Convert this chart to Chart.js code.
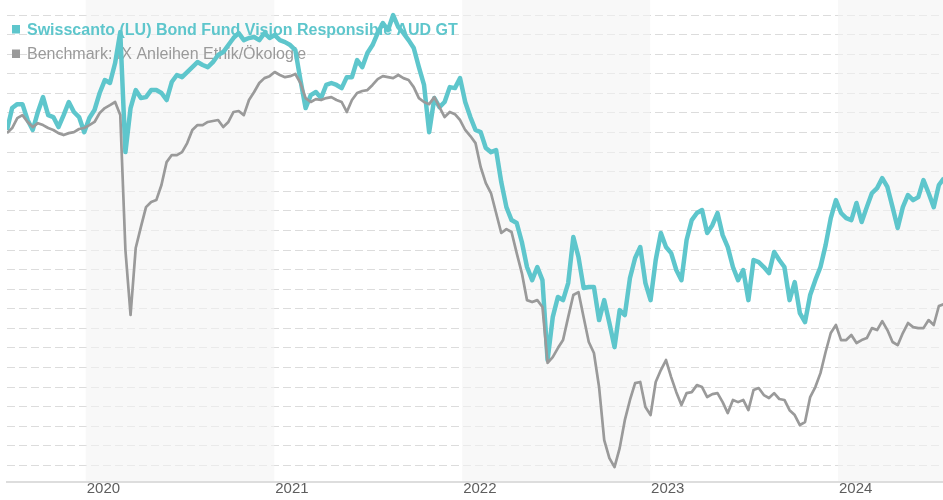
<!DOCTYPE html>
<html>
<head>
<meta charset="utf-8">
<script src="https://cdn.jsdelivr.net/npm/chart.js@4.4.1/dist/chart.umd.min.js"></script>
<style>
  html, body { margin: 0; padding: 0; background: #ffffff; }
  #wrap { width: 943px; height: 500px; }
</style>
</head>
<body>
<div id="wrap"><canvas id="chart" width="943" height="500"></canvas></div>
<script>
// Series names (shown in the legend)
const seriesNames = [
  'Swisscanto (LU) Bond Fund Vision Responsible AUD GT',
  'Benchmark: IX Anleihen Ethik/Ökologie'
];

// Observation dates: every 10 days starting from firstDate
const firstDate = '2019-08-01';
const stepDays = 10;
const lastDate = '2024-07-23';

// Fund index values
const fundValues = [
  95.13, 96.25, 96.45, 96.45, 95.64, 95.13, 96.05, 96.81, 95.89, 95.79,
  95.28, 95.89, 96.56, 96.05, 95.79, 95.02, 95.74, 96.15, 97.02, 97.68,
  97.53, 98.55, 100.13, 94.00, 96.25, 97.17, 96.76, 96.81, 97.17, 97.17,
  97.02, 96.66, 97.58, 97.94, 97.83, 98.09, 98.34, 98.60, 98.45, 98.34,
  98.60, 98.96, 99.11, 99.47, 99.83, 100.08, 99.72, 99.83, 99.88, 99.72,
  100.08, 99.83, 99.98, 99.72, 99.62, 99.47, 99.21, 97.68, 96.25, 96.91,
  97.07, 96.76, 97.43, 97.53, 97.43, 97.27, 97.83, 97.83, 98.70, 98.34,
  99.06, 99.47, 100.08, 100.59, 100.23, 101.00, 100.39, 100.08, 99.72, 99.32,
  98.34, 97.43, 95.02, 96.76, 96.30, 96.56, 97.32, 97.27, 97.78, 96.56,
  95.79, 95.13, 95.02, 94.21, 94.00, 94.10, 92.47, 91.19, 90.53, 90.38,
  89.41, 88.13, 87.46, 88.13, 87.46, 83.38, 85.57, 86.60, 86.44, 87.31,
  89.66, 88.64, 87.06, 87.11, 87.11, 85.42, 86.44, 85.27, 84.04, 85.93,
  85.68, 87.57, 88.59, 89.15, 87.31, 86.44, 88.49, 89.87, 89.15, 88.84,
  87.98, 87.46, 89.51, 90.53, 90.89, 91.04, 89.87, 90.27, 90.89, 89.76,
  89.15, 88.13, 87.46, 87.98, 86.44, 88.49, 88.38, 88.13, 87.82, 88.90,
  88.49, 88.13, 86.44, 87.36, 85.78, 85.32, 86.70, 87.46, 88.13, 89.25,
  90.63, 91.55, 90.89, 90.63, 90.53, 91.40, 90.43, 91.19, 91.91, 92.16,
  92.67, 92.22, 91.19, 90.12, 91.19, 91.81, 91.55, 91.70, 92.57, 91.91,
  91.19, 92.32, 92.67
];

// Benchmark index values
const benchmarkValues = [
  94.97, 95.23, 95.74, 95.89, 95.54, 95.28, 95.48, 95.38, 95.23, 95.13,
  94.97, 94.87, 94.97, 95.02, 95.18, 95.23, 95.38, 95.54, 96.00, 96.25,
  96.40, 96.56, 95.89, 89.00, 85.68, 89.10, 90.17, 91.19, 91.45, 91.55,
  92.32, 93.49, 93.85, 93.85, 94.00, 94.46, 95.13, 95.38, 95.38, 95.54,
  95.59, 95.64, 95.28, 95.54, 96.05, 96.10, 95.89, 96.66, 97.07, 97.53,
  97.78, 97.88, 98.09, 97.94, 97.83, 97.88, 97.99, 97.53, 96.76, 96.56,
  96.71, 96.66, 96.76, 96.81, 96.66, 96.56, 96.05, 96.66, 97.02, 97.12,
  97.17, 97.43, 97.73, 97.88, 97.83, 97.78, 97.94, 97.78, 97.68, 97.32,
  96.76, 96.56, 96.45, 96.81, 96.30, 95.79, 96.05, 95.94, 95.64, 95.13,
  94.82, 94.46, 93.24, 92.42, 91.91, 90.89, 89.87, 90.07, 89.92, 88.84,
  87.82, 86.44, 86.34, 86.44, 86.09, 83.23, 83.53, 83.99, 84.40, 85.57,
  86.70, 86.85, 85.57, 84.30, 83.74, 82.00, 79.29, 78.37, 77.91, 78.88,
  80.31, 81.34, 82.20, 82.26, 80.98, 80.57, 82.26, 82.87, 83.38, 82.51,
  81.74, 81.08, 81.69, 81.74, 82.10, 82.00, 81.49, 81.64, 81.69, 81.23,
  80.67, 81.34, 81.23, 81.34, 80.82, 81.85, 81.95, 81.59, 81.44, 81.69,
  81.39, 81.34, 80.82, 80.57, 80.06, 80.21, 81.49, 82.00, 82.71, 83.79,
  84.76, 85.17, 84.40, 84.40, 84.66, 84.25, 84.40, 84.50, 85.01, 84.91,
  85.37, 84.91, 84.30, 84.14, 84.76, 85.27, 85.06, 85.01, 85.01, 85.42,
  85.17, 86.14, 86.24
];

// Axis labels and shading
const yearLabels = ['2020', '2021', '2022', '2023', '2024'];
const shadedYears = [2020, 2022, 2024];
const gridValues = [];
for (let v = 78; v <= 101; v++) gridValues.push(v);
const valueMin = 77.15;
const valueMax = 101.77;

// Colours and fonts
const fundColor = '#5ec6cc';
const benchColor = '#9a9a9a';
const fontFamily = '"Liberation Sans", Arial, Helvetica, sans-serif';

// Dates are placed on a numeric axis in days since 2020-01-01
const DAY_MS = 86400000;
const EPOCH = Date.parse('2020-01-01T00:00:00Z');
const dayOf = s => (Date.parse(s + 'T00:00:00Z') - EPOCH) / DAY_MS;
const yearStart = y => (Date.UTC(y, 0, 1) - EPOCH) / DAY_MS;

const startDay = dayOf(firstDate);
const toPoints = arr => arr.map((v, i) => ({ x: startDay + i * stepDays, y: v }));

// Shaded year bands and the legend are painted under the lines
const underlayPlugin = {
  id: 'underlay',
  beforeDatasetsDraw(chart) {
    const { ctx, chartArea, scales } = chart;
    const xs = scales.x;
    ctx.save();
    ctx.fillStyle = 'rgba(243,243,243,0.6)';
    shadedYears.forEach(y => {
      const x0 = Math.max(xs.getPixelForValue(yearStart(y)), chartArea.left);
      const x1 = Math.min(xs.getPixelForValue(yearStart(y + 1)), chartArea.right);
      if (x1 > x0) ctx.fillRect(x0, 0, x1 - x0, chartArea.bottom - 1);
    });

    // legend
    const items = [
      { text: seriesNames[0], color: fundColor, bold: true, y: 34.5 },
      { text: seriesNames[1], color: benchColor, bold: false, y: 59 }
    ];
    items.forEach(it => {
      ctx.fillStyle = it.color;
      ctx.fillRect(12, it.y - 9.5, 8, 8.5);
      ctx.font = (it.bold ? 'bold ' : '') + '16px ' + fontFamily;
      ctx.textBaseline = 'alphabetic';
      ctx.textAlign = 'left';
      ctx.fillText(it.text, 27, it.y);
    });
    ctx.restore();
  }
};

new Chart(document.getElementById('chart'), {
  type: 'line',
  data: {
    datasets: [
      {
        label: seriesNames[0],
        data: toPoints(fundValues),
        borderColor: fundColor,
        borderWidth: 4.5,
        pointRadius: 0,
        tension: 0,
        borderJoinStyle: 'round',
        fill: false,
        order: 1
      },
      {
        label: seriesNames[1],
        data: toPoints(benchmarkValues),
        borderColor: benchColor,
        borderWidth: 2.7,
        pointRadius: 0,
        tension: 0,
        borderJoinStyle: 'round',
        fill: false,
        order: 0
      }
    ]
  },
  options: {
    responsive: false,
    animation: false,
    layout: { padding: 0 },
    plugins: { legend: { display: false }, tooltip: { enabled: false } },
    scales: {
      x: {
        type: 'linear',
        bounds: 'data',
        min: startDay,
        max: dayOf(lastDate),
        grid: { display: false, drawTicks: false },
        border: { display: true, color: '#dddddd', width: 2 },
        afterBuildTicks: s => { s.ticks = yearLabels.map(l => ({ value: yearStart(+l) })); },
        afterFit: s => { s.height = 18; },
        ticks: {
          autoSkip: false,
          maxRotation: 0,
          align: 'start',
          padding: -1,
          labelOffset: 1,
          color: '#5e5e5e',
          font: { family: fontFamily, size: 15, lineHeight: 1 },
          callback: (v, i) => yearLabels[i]
        }
      },
      y: {
        type: 'linear',
        bounds: 'data',
        min: valueMin,
        max: valueMax,
        grid: { color: '#dcdcdc', lineWidth: 1, drawTicks: false },
        border: { display: false, dash: [8, 4] },
        ticks: { display: false },
        afterBuildTicks: s => { s.ticks = gridValues.map(v => ({ value: v })); },
        afterFit: s => { s.width = 7; }
      }
    }
  },
  plugins: [underlayPlugin]
});
</script>
</body>
</html>
